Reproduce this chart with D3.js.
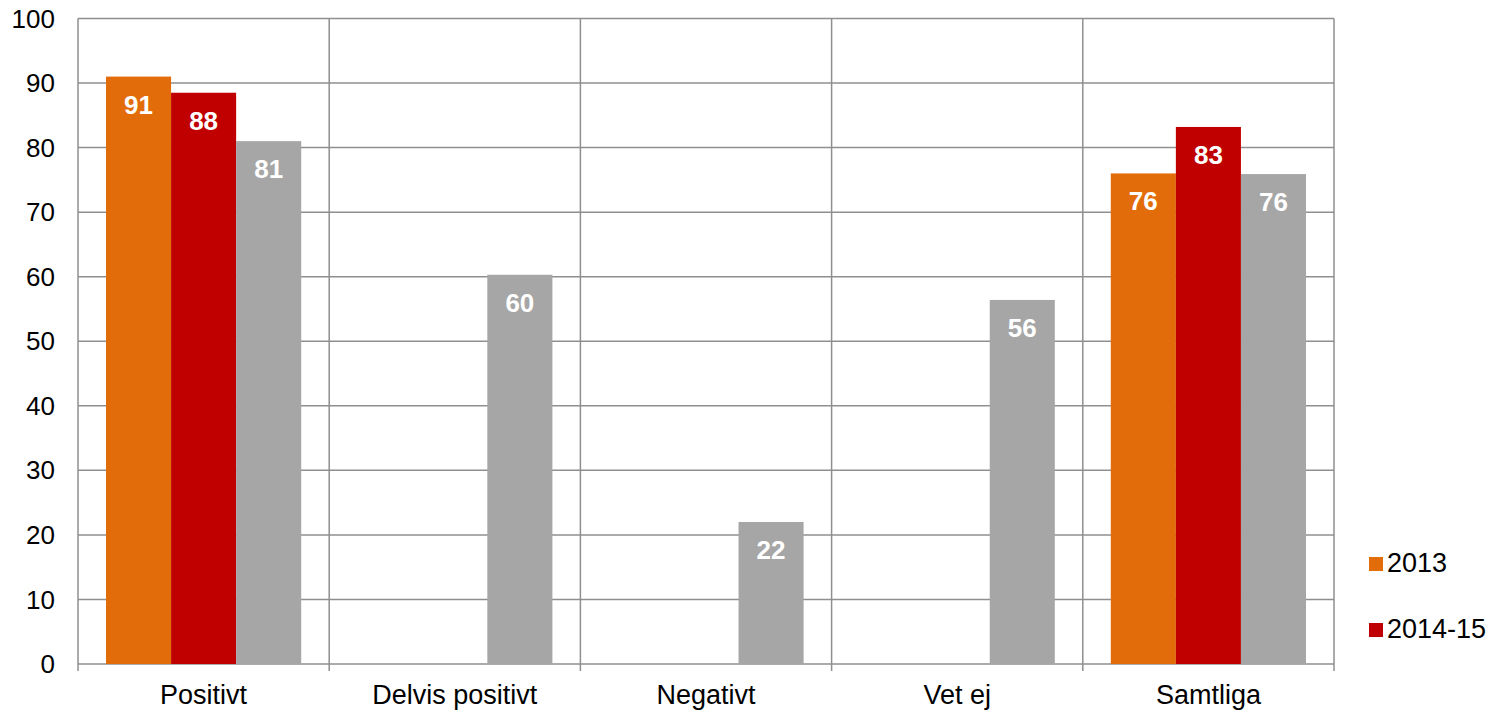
<!DOCTYPE html>
<html lang="en">
<head>
<meta charset="UTF-8">
<title>Bar chart</title>
<script src="https://cdn.jsdelivr.net/npm/d3@7"></script>
<style>
  body { margin: 0; background: #fff; }
  text { font-family: "Liberation Sans", Arial, sans-serif; }
</style>
</head>
<body>
<div id="chart"></div>
<script>
// data
var categories = ["Positivt", "Delvis positivt", "Negativt", "Vet ej", "Samtliga"];
var seriesNames = ["2013", "2014-15", "2016"];
var values2013 = [91, null, null, null, 76];
var values2014 = [88.5, null, null, null, 83.2];
var values2016 = [81, 60.3, 22, 56.4, 75.9];
var labels2013 = ["91", "", "", "", "76"];
var labels2014 = ["88", "", "", "", "83"];
var labels2016 = ["81", "60", "22", "56", "76"];
var legendNames = ["2013", "2014-15"];
var yTicks = [0, 10, 20, 30, 40, 50, 60, 70, 80, 90, 100];

var colors = {"2013": "#E36C0A", "2014-15": "#C00000", "2016": "#A6A6A6"};

var W = 1500, H = 711;
var margin = {top: 18.5, right: 166, bottom: 47, left: 78};
var width = W - margin.left - margin.right;
var height = H - margin.top - margin.bottom;

var svg = d3.select("#chart").append("svg")
    .attr("width", W).attr("height", H);
var g = svg.append("g")
    .attr("transform", "translate(" + margin.left + "," + margin.top + ")");

var x = d3.scaleBand().domain(categories).range([0, width]).paddingInner(0).paddingOuter(0);
var inner = d3.scaleBand().domain(seriesNames)
    .range([28, x.bandwidth() - 28]).padding(0);
var y = d3.scaleLinear().domain([0, 100]).range([height, 0]);

var gridColor = "#8f8f8f";

// horizontal gridlines
g.append("g").selectAll("line").data(yTicks).enter().append("line")
    .attr("x1", 0).attr("x2", width)
    .attr("y1", function (d) { return y(d); })
    .attr("y2", function (d) { return y(d); })
    .attr("stroke", gridColor).attr("stroke-width", 1.5);

// vertical gridlines at category boundaries (extend below axis as ticks)
var bounds = categories.map(function (c) { return x(c); }).concat([width]);
g.append("g").selectAll("line").data(bounds).enter().append("line")
    .attr("x1", function (d) { return d; }).attr("x2", function (d) { return d; })
    .attr("y1", 0).attr("y2", height + 7)
    .attr("stroke", gridColor).attr("stroke-width", 1.5);

// bars
var rows = [values2013, values2014, values2016];
var labs = [labels2013, labels2014, labels2016];
var barData = [];
seriesNames.forEach(function (s, si) {
    categories.forEach(function (c, ci) {
        if (rows[si][ci] != null) {
            barData.push({series: s, cat: c, value: rows[si][ci], label: labs[si][ci]});
        }
    });
});

g.append("g").selectAll("rect").data(barData).enter().append("rect")
    .attr("x", function (d) { return x(d.cat) + inner(d.series); })
    .attr("y", function (d) { return y(d.value); })
    .attr("width", inner.bandwidth())
    .attr("height", function (d) { return height - y(d.value); })
    .attr("fill", function (d) { return colors[d.series]; });

g.append("g").selectAll("text").data(barData).enter().append("text")
    .attr("x", function (d) { return x(d.cat) + inner(d.series) + inner.bandwidth() / 2; })
    .attr("y", function (d) { return y(d.value) + 37; })
    .attr("text-anchor", "middle")
    .attr("fill", "#fff")
    .style("font-size", "26px")
    .style("font-weight", "bold")
    .text(function (d) { return d.label; });

// y axis labels
g.append("g").selectAll("text").data(yTicks).enter().append("text")
    .attr("x", -23)
    .attr("y", function (d) { return y(d); })
    .attr("dy", "0.35em")
    .attr("text-anchor", "end")
    .style("font-size", "26px")
    .attr("fill", "#000")
    .text(function (d) { return d; });

// x axis labels
g.append("g").selectAll("text").data(categories).enter().append("text")
    .attr("x", function (d) { return x(d) + x.bandwidth() / 2; })
    .attr("y", height + 40)
    .attr("text-anchor", "middle")
    .style("font-size", "27px")
    .attr("fill", "#000")
    .text(function (d) { return d; });

// legend
var legend = svg.append("g").attr("transform", "translate(1369,557)");
var items = legend.selectAll("g").data(legendNames).enter().append("g")
    .attr("transform", function (d, i) { return "translate(0," + (i * 66) + ")"; });
items.append("rect").attr("width", 14).attr("height", 14)
    .attr("fill", function (d) { return colors[d]; });
items.append("text").attr("x", 18).attr("y", 15)
    .style("font-size", "27px").attr("fill", "#000")
    .text(function (d) { return d; });
</script>
</body>
</html>
